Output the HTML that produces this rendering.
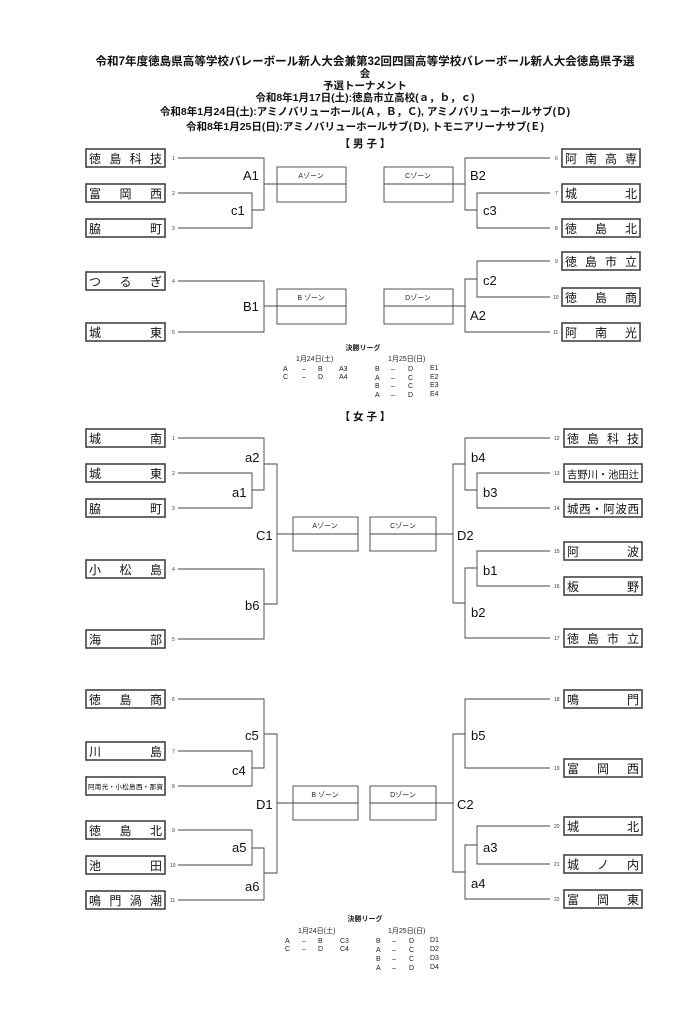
<!DOCTYPE html>
<html><head><meta charset="utf-8"><style>
html,body{margin:0;padding:0;background:#fff;}
svg{display:block;font-family:"Liberation Sans","Noto Sans CJK JP",sans-serif;}
.b{fill:#fff;stroke:#444;stroke-width:1.6}
.n{font-size:12px;fill:#111}
.s{font-size:5px;fill:#333}
.l{stroke:#444;stroke-width:0.9;fill:none}
.lb{font-size:13px;fill:#111}
.z{fill:#fff;stroke:#444;stroke-width:0.9}
.zt{font-size:7px;fill:#222}
.h{font-size:10.5px;fill:#111;text-anchor:middle;font-weight:bold}
.f{font-size:7px;fill:#222}
</style></head><body>
<svg width="689" height="1024" viewBox="0 0 689 1024">
<!-- header -->
<text class="h" x="365" y="65" style="font-size:11.6px" textLength="539" lengthAdjust="spacingAndGlyphs">令和7年度徳島県高等学校バレーボール新人大会兼第32回四国高等学校バレーボール新人大会徳島県予選</text>
<text class="h" x="365" y="77">会</text>
<text class="h" x="365" y="89">予選トーナメント</text>
<text class="h" x="365" y="101">令和8年1月17日(土):徳島市立高校(ａ，ｂ，ｃ)</text>
<text class="h" x="365" y="115">令和8年1月24日(土):アミノバリューホール(Ａ，Ｂ，Ｃ), アミノバリューホールサブ(Ｄ)</text>
<text class="h" x="365" y="130">令和8年1月25日(日):アミノバリューホールサブ(Ｄ), トモニアリーナサブ(Ｅ)</text>
<text class="h" x="365" y="147">【 男 子 】</text>

<!-- Boys left -->
<rect class="b" x="86" y="149" width="79" height="18"/><text class="n" x="89" y="163" textLength="73" lengthAdjust="spacing">徳島科技</text><text class="s" x="172" y="160">1</text>
<rect class="b" x="86" y="184" width="79" height="18"/><text class="n" x="89" y="198" textLength="73" lengthAdjust="spacing">富岡西</text><text class="s" x="172" y="195">2</text>
<rect class="b" x="86" y="219" width="79" height="18"/><text class="n" x="89" y="233" textLength="73" lengthAdjust="spacing">脇町</text><text class="s" x="172" y="230">3</text>
<rect class="b" x="86" y="272" width="79" height="18"/><text class="n" x="89" y="286" textLength="73" lengthAdjust="spacing">つるぎ</text><text class="s" x="172" y="283">4</text>
<rect class="b" x="86" y="323" width="79" height="18"/><text class="n" x="89" y="337" textLength="73" lengthAdjust="spacing">城東</text><text class="s" x="172" y="334">5</text>
<path class="l" d="M178 158H264V210H252 M178 193H252V228H178 M264 184H277 M178 281H264V332H178 M264 306H277"/>
<text class="lb" x="243" y="180">A1</text><text class="lb" x="231" y="215">c1</text><text class="lb" x="243" y="311">B1</text>
<rect class="z" x="277" y="167" width="69" height="35"/><line class="l" x1="277" y1="184" x2="346" y2="184"/><text class="zt" x="311" y="178" text-anchor="middle">Aゾーン</text>
<rect class="z" x="277" y="289" width="69" height="35"/><line class="l" x1="277" y1="306" x2="346" y2="306"/><text class="zt" x="311" y="300" text-anchor="middle">B ゾーン</text>

<!-- Boys right -->
<rect class="z" x="384" y="167" width="69" height="35"/><line class="l" x1="384" y1="184" x2="453" y2="184"/><text class="zt" x="418" y="178" text-anchor="middle">Cゾーン</text>
<rect class="z" x="384" y="289" width="69" height="35"/><line class="l" x1="384" y1="306" x2="453" y2="306"/><text class="zt" x="418" y="300" text-anchor="middle">Dゾーン</text>
<path class="l" d="M453 184H465 M550 158H465V210H477 M550 193H477V228H550 M550 261H477V297H550 M477 279H465V332H550 M453 306H465"/>
<text class="lb" x="470" y="180">B2</text><text class="lb" x="483" y="215">c3</text><text class="lb" x="483" y="285">c2</text><text class="lb" x="470" y="320">A2</text>
<rect class="b" x="562" y="149" width="78" height="18"/><text class="n" x="565" y="163" textLength="72" lengthAdjust="spacing">阿南高専</text><text class="s" x="555" y="160">6</text>
<rect class="b" x="562" y="184" width="78" height="18"/><text class="n" x="565" y="198" textLength="72" lengthAdjust="spacing">城北</text><text class="s" x="555" y="195">7</text>
<rect class="b" x="562" y="219" width="78" height="18"/><text class="n" x="565" y="233" textLength="72" lengthAdjust="spacing">徳島北</text><text class="s" x="555" y="230">8</text>
<rect class="b" x="562" y="252" width="78" height="18"/><text class="n" x="565" y="266" textLength="72" lengthAdjust="spacing">徳島市立</text><text class="s" x="555" y="263">9</text>
<rect class="b" x="562" y="288" width="78" height="18"/><text class="n" x="565" y="302" textLength="72" lengthAdjust="spacing">徳島商</text><text class="s" x="553" y="299">10</text>
<rect class="b" x="562" y="323" width="78" height="18"/><text class="n" x="565" y="337" textLength="72" lengthAdjust="spacing">阿南光</text><text class="s" x="553" y="334">11</text>

<!-- Boys finals -->
<text class="f" x="363" y="350" text-anchor="middle" font-weight="bold">決勝リーグ</text>
<text class="f" x="296" y="361">1月24日(土)</text><text class="f" x="388" y="361">1月25日(日)</text>
<g class="f"><text x="283" y="371">A</text><text x="302" y="371">–</text><text x="318" y="371">B</text><text x="339" y="371">A3</text>
<text x="283" y="379">C</text><text x="302" y="379">–</text><text x="318" y="379">D</text><text x="339" y="379">A4</text>
<text x="375" y="371">B</text><text x="391" y="371">–</text><text x="408" y="371">D</text><text x="430" y="370">E1</text>
<text x="375" y="380">A</text><text x="391" y="380">–</text><text x="408" y="380">C</text><text x="430" y="379">E2</text>
<text x="375" y="388">B</text><text x="391" y="388">–</text><text x="408" y="388">C</text><text x="430" y="387">E3</text>
<text x="375" y="397">A</text><text x="391" y="397">–</text><text x="408" y="397">D</text><text x="430" y="396">E4</text></g>
<text class="h" x="365" y="420">【 女 子 】</text>

<!-- Girls top left -->
<rect class="b" x="86" y="429" width="79" height="18"/><text class="n" x="89" y="443" textLength="73" lengthAdjust="spacing">城南</text><text class="s" x="172" y="440">1</text>
<rect class="b" x="86" y="464" width="79" height="18"/><text class="n" x="89" y="478" textLength="73" lengthAdjust="spacing">城東</text><text class="s" x="172" y="475">2</text>
<rect class="b" x="86" y="499" width="79" height="18"/><text class="n" x="89" y="513" textLength="73" lengthAdjust="spacing">脇町</text><text class="s" x="172" y="510">3</text>
<rect class="b" x="86" y="560" width="79" height="18"/><text class="n" x="89" y="574" textLength="73" lengthAdjust="spacing">小松島</text><text class="s" x="172" y="571">4</text>
<rect class="b" x="86" y="630" width="79" height="18"/><text class="n" x="89" y="644" textLength="73" lengthAdjust="spacing">海部</text><text class="s" x="172" y="641">5</text>
<path class="l" d="M178 438H264V490H252 M178 473H252V508H178 M264 464H277V604H264 M178 569H264V639H178 M277 534H293"/>
<text class="lb" x="245" y="462">a2</text><text class="lb" x="232" y="497">a1</text><text class="lb" x="256" y="540">C1</text><text class="lb" x="245" y="610">b6</text>
<rect class="z" x="293" y="517" width="65" height="34"/><line class="l" x1="293" y1="534" x2="358" y2="534"/><text class="zt" x="325" y="528" text-anchor="middle">Aゾーン</text>

<!-- Girls top right -->
<rect class="z" x="370" y="517" width="66" height="34"/><line class="l" x1="370" y1="534" x2="436" y2="534"/><text class="zt" x="403" y="528" text-anchor="middle">Cゾーン</text>
<path class="l" d="M436 534H453 M550 438H465V490H477 M550 473H477V508H550 M465 464H453V603H465 M550 551H477V586H550 M477 568H465V638H550"/>
<text class="lb" x="471" y="462">b4</text><text class="lb" x="483" y="497">b3</text><text class="lb" x="457" y="540">D2</text><text class="lb" x="483" y="575">b1</text><text class="lb" x="471" y="617">b2</text>
<rect class="b" x="564" y="429" width="78" height="18"/><text class="n" x="567" y="443" textLength="72" lengthAdjust="spacing">徳島科技</text><text class="s" x="554" y="440">12</text>
<rect class="b" x="564" y="464" width="78" height="18"/><text class="n" x="567" y="478" style="font-size:10.5px" textLength="72" lengthAdjust="spacingAndGlyphs">吉野川・池田辻</text><text class="s" x="554" y="475">13</text>
<rect class="b" x="564" y="499" width="78" height="18"/><text class="n" x="567" y="513" style="font-size:11.5px" textLength="72" lengthAdjust="spacing">城西・阿波西</text><text class="s" x="554" y="510">14</text>
<rect class="b" x="564" y="542" width="78" height="18"/><text class="n" x="567" y="556" textLength="72" lengthAdjust="spacing">阿波</text><text class="s" x="554" y="553">15</text>
<rect class="b" x="564" y="577" width="78" height="18"/><text class="n" x="567" y="591" textLength="72" lengthAdjust="spacing">板野</text><text class="s" x="554" y="588">16</text>
<rect class="b" x="564" y="629" width="78" height="18"/><text class="n" x="567" y="643" textLength="72" lengthAdjust="spacing">徳島市立</text><text class="s" x="554" y="640">17</text>

<!-- Girls bottom left -->
<rect class="b" x="86" y="690" width="79" height="18"/><text class="n" x="89" y="704" textLength="73" lengthAdjust="spacing">徳島商</text><text class="s" x="172" y="701">6</text>
<rect class="b" x="86" y="742" width="79" height="18"/><text class="n" x="89" y="756" textLength="73" lengthAdjust="spacing">川島</text><text class="s" x="172" y="753">7</text>
<rect class="b" x="86" y="777" width="79" height="18"/><text x="88" y="789" style="font-size:6.5px" textLength="75" lengthAdjust="spacing">阿南光・小松島西・那賀</text><text class="s" x="172" y="788">8</text>
<rect class="b" x="86" y="821" width="79" height="18"/><text class="n" x="89" y="835" textLength="73" lengthAdjust="spacing">徳島北</text><text class="s" x="172" y="832">9</text>
<rect class="b" x="86" y="856" width="79" height="18"/><text class="n" x="89" y="870" textLength="73" lengthAdjust="spacing">池田</text><text class="s" x="170" y="867">10</text>
<rect class="b" x="86" y="891" width="79" height="18"/><text class="n" x="89" y="905" textLength="73" lengthAdjust="spacing">鳴門渦潮</text><text class="s" x="170" y="902">11</text>
<path class="l" d="M178 699H264V768H252 M178 751H252V786H178 M264 734H277V873H264 M178 830H252V865H178 M252 848H264V900H178 M277 803H293"/>
<text class="lb" x="245" y="740">c5</text><text class="lb" x="232" y="775">c4</text><text class="lb" x="256" y="809">D1</text><text class="lb" x="232" y="852">a5</text><text class="lb" x="245" y="891">a6</text>
<rect class="z" x="293" y="786" width="65" height="34"/><line class="l" x1="293" y1="803" x2="358" y2="803"/><text class="zt" x="325" y="797" text-anchor="middle">B ゾーン</text>

<!-- Girls bottom right -->
<rect class="z" x="370" y="786" width="66" height="34"/><line class="l" x1="370" y1="803" x2="436" y2="803"/><text class="zt" x="403" y="797" text-anchor="middle">Dゾーン</text>
<path class="l" d="M436 803H453 M550 699H465V768H550 M465 734H453V872H465 M550 826H477V864H550 M477 845H465V899H550"/>
<text class="lb" x="471" y="740">b5</text><text class="lb" x="457" y="809">C2</text><text class="lb" x="483" y="852">a3</text><text class="lb" x="471" y="888">a4</text>
<rect class="b" x="564" y="690" width="78" height="18"/><text class="n" x="567" y="704" textLength="72" lengthAdjust="spacing">鳴門</text><text class="s" x="554" y="701">18</text>
<rect class="b" x="564" y="759" width="78" height="18"/><text class="n" x="567" y="773" textLength="72" lengthAdjust="spacing">富岡西</text><text class="s" x="554" y="770">19</text>
<rect class="b" x="564" y="817" width="78" height="18"/><text class="n" x="567" y="831" textLength="72" lengthAdjust="spacing">城北</text><text class="s" x="554" y="828">20</text>
<rect class="b" x="564" y="855" width="78" height="18"/><text class="n" x="567" y="869" textLength="72" lengthAdjust="spacing">城ノ内</text><text class="s" x="554" y="866">21</text>
<rect class="b" x="564" y="890" width="78" height="18"/><text class="n" x="567" y="904" textLength="72" lengthAdjust="spacing">富岡東</text><text class="s" x="554" y="901">22</text>

<!-- Girls finals -->
<text class="f" x="365" y="921" text-anchor="middle" font-weight="bold">決勝リーグ</text>
<text class="f" x="298" y="933">1月24日(土)</text><text class="f" x="388" y="933">1月25日(日)</text>
<g class="f"><text x="285" y="943">A</text><text x="302" y="943">–</text><text x="318" y="943">B</text><text x="340" y="943">C3</text>
<text x="285" y="951">C</text><text x="302" y="951">–</text><text x="318" y="951">D</text><text x="340" y="951">C4</text>
<text x="376" y="943">B</text><text x="392" y="943">–</text><text x="409" y="943">D</text><text x="430" y="942">D1</text>
<text x="376" y="952">A</text><text x="392" y="952">–</text><text x="409" y="952">C</text><text x="430" y="951">D2</text>
<text x="376" y="961">B</text><text x="392" y="961">–</text><text x="409" y="961">C</text><text x="430" y="960">D3</text>
<text x="376" y="970">A</text><text x="392" y="970">–</text><text x="409" y="970">D</text><text x="430" y="969">D4</text></g>
</svg>
</body></html>
